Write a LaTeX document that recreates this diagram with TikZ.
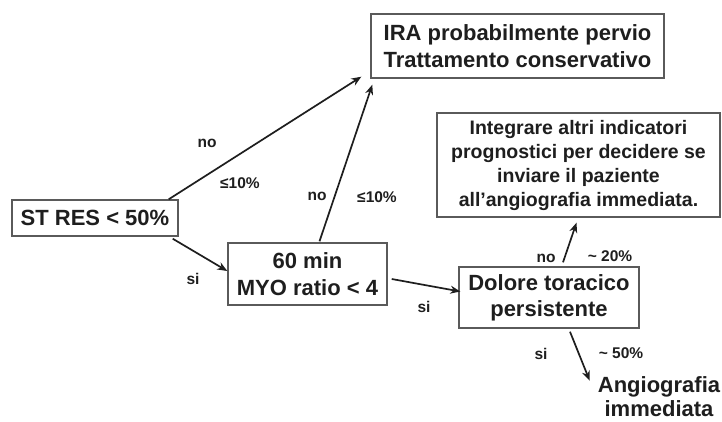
\documentclass[tikz,border=0pt]{standalone}
\usepackage{fontspec}
\setmainfont{Liberation Sans}
\usetikzlibrary{arrows.meta,calc}
\definecolor{ink}{HTML}{1E1E1E}
\definecolor{frame}{HTML}{5A5A5A}
\begin{document}
\begin{tikzpicture}[x=1pt,y=-1pt,
  box/.style={draw=frame,line width=1.4pt,inner sep=0pt,align=center,text=ink,
    font=\bfseries\fontsize{22}{27}\selectfont},
  bigtext/.style={inner sep=0pt,align=center,text=ink,font=\bfseries\fontsize{22}{24}\selectfont},
  lbl/.style={inner sep=0pt,text=ink,font=\bfseries\fontsize{15.5}{17}\selectfont},
  arr/.style={draw=ink,line width=1.7pt,-{Stealth[length=10pt,width=8pt]}}]
\useasboundingbox (0,0) rectangle (722,421);
\fill[white] (0,0) rectangle (722,421);
\node[box,minimum width=166pt,minimum height=36pt] (st) at (95,218) {ST RES < 50\%};
\node[box,minimum width=293pt,minimum height=64pt] (ira) at (517.5,46) {IRA probabilmente pervio\\Trattamento conservativo};
\node[box,minimum width=283pt,minimum height=104pt,font=\bfseries\fontsize{19.5}{24}\selectfont] (integ) at (578.5,165) {Integrare altri indicatori\\prognostici per decidere se\\inviare il paziente\\all'angiografia immediata.};
\node[box,minimum width=159pt,minimum height=62pt] (myo) at (307.5,274) {60 min\\MYO ratio < 4};
\node[box,minimum width=180pt,minimum height=61pt,font=\bfseries\fontsize{22}{26}\selectfont] (dol) at (549,297.5) {Dolore toracico\\persistente};
\node[bigtext] (ang) at (659,397) {Angiografia\\immediata};
\draw[arr] ($(st.north east)+(-10,0)$) -- ($(ira.south west)+(-9,-2)$);
\draw[arr] ($(myo.north)+(12,-1)$) -- ($(ira.south west)+(2,6)$);
\draw[arr] ($(st.south east)+(-6,2)$) -- ($(myo.west)+(0,-3)$);
\draw[arr] ($(myo.east)+(4,5)$) -- ($(dol.west)+(2,-6)$);
\draw[arr] ($(dol.north)+(14,-4)$) -- ($(integ.south)+(-2,5)$);
\draw[arr] ($(dol.south)+(21,3)$) -- ($(ang.north west)+(-8,4)$);
\node[lbl] (l1) at (207,143) {no};
\node[lbl] (l2) at (240,183) {≤10\%};
\node[lbl] (l3) at (317,196) {no};
\node[lbl] (l4) at (377,197) {≤10\%};
\node[lbl] (l5) at (193,279) {si};
\node[lbl] (l6) at (424,307) {si};
\node[lbl] (l7) at (546,258) {no};
\node[lbl] (l8) at (610,256) {\textasciitilde{} 20\%};
\node[lbl] (l9) at (541,354) {si};
\node[lbl] (l10) at (621,353) {\textasciitilde{} 50\%};
\end{tikzpicture}
\end{document}
